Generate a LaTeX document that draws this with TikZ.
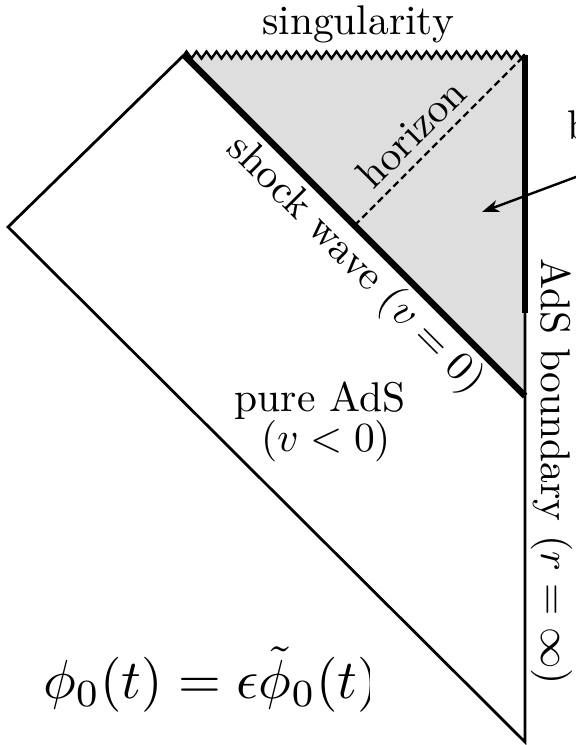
\documentclass[tikz,border=0pt]{standalone}
\usetikzlibrary{arrows.meta,decorations.pathmorphing}
\definecolor{bhgray}{RGB}{222,222,222}
\begin{document}
\begin{tikzpicture}[x=1pt,y=1pt,
  thinline/.style={line width=2.8pt, line join=miter},
  thickline/.style={line width=6.5pt},
  lbl/.style={scale=4.15, inner sep=0pt}]
\useasboundingbox (0,0) rectangle (576,745);
% corners of the Penrose diagram
\coordinate (L) at (8,518);
\coordinate (TL) at (184,690);
\coordinate (TR) at (525,690);
\coordinate (B) at (525,3);
\coordinate (S) at (525,349);
\coordinate (H) at (354.5,519.5);
\coordinate (K) at (525,432);
% black hole region behind the shock wave
\fill[bhgray] (TL) -- (TR) -- (S) -- cycle;
\draw[line width=2.4pt, dash pattern=on 7pt off 4pt] (H) -- (TR);
\draw[thinline] (TL) -- (L) -- (B) -- (K);
\draw[thickline] (K) -- (TR);
\draw[thickline] (TL) -- (S);
\draw[line width=2.4pt, decorate, decoration={zigzag, segment length=10pt, amplitude=3.5pt}] (TL) -- (TR);
% labels
\node[lbl, anchor=base] (sing) at (358,710) {singularity};
\node[lbl, rotate=45] (hor) at (411,612) {horizon};
\node[lbl, rotate=-45] (shock) at (355,480) {shock wave ($v=0$)};
\node[lbl, anchor=base] (pure) at (320,333) {pure AdS};
\node[lbl, anchor=base] (vneg) at (326,293) {($v<0$)};
\node[lbl, rotate=-90, anchor=base west] (bdy) at (541,487) {AdS boundary ($r=\infty$)};
\node[lbl, anchor=base west] (bh) at (567,605) {black hole};
\coordinate (bhtail) at (600,577);
\coordinate (bhtip) at (482,533);
\draw[line width=2.4pt, -{Stealth[length=17pt, width=12pt, inset=5pt]}] (bhtail) -- (bhtip);
% boundary source
\begin{scope}
\clip (0,0) rectangle (369,140);
\node[scale=5.5, anchor=base west, inner sep=0pt] (eq) at (42,47) {$\phi_0(t)=\epsilon\tilde\phi_0(t)$};
\end{scope}
\end{tikzpicture}
\end{document}
